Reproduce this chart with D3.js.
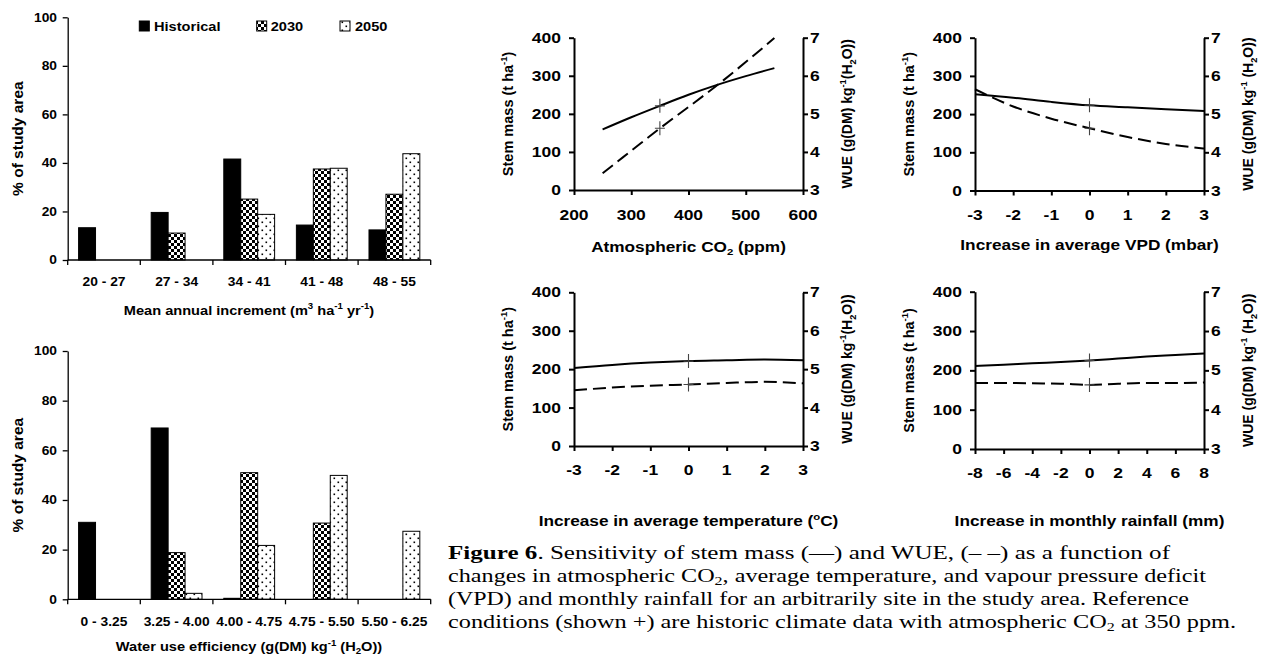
<!DOCTYPE html>
<html><head><meta charset="utf-8">
<script src="https://cdn.jsdelivr.net/npm/d3@7"></script>
<style>body{margin:0;background:#fff} svg{display:block}</style>
</head><body>
<svg id="c" width="1267" height="656"></svg>
<script>
// ---------- DATA ----------
const seriesNames = ["Historical", "2030", "2050"];
const barTicks = [0, 20, 40, 60, 80, 100];

const miCategories = ["20 - 27", "27 - 34", "34 - 41", "41 - 48", "48 - 55"];
const miHistorical = [13.3, 19.6, 41.6, 14.4, 12.4];
const mi2030 = [0, 11.1, 25.1, 37.5, 27.1];
const mi2050 = [0, 0, 18.8, 37.8, 43.8];

const wueCategories = ["0 - 3.25", "3.25 - 4.00", "4.00 - 4.75", "4.75 - 5.50", "5.50 - 6.25"];
const wueHistorical = [31, 69, 0.4, 0, 0];
const wue2030 = [0, 18.8, 51, 30.7, 0];
const wue2050 = [0, 2.4, 21.7, 49.9, 27.4];

const stemTicks = [0, 100, 200, 300, 400];
const wueTicks = [3, 4, 5, 6, 7];

const co2X = [250, 300, 350, 400, 450, 500, 550];
const co2Stem = [159, 191, 221, 250, 276, 299, 320];
const co2WUE = [3.44, 4.03, 4.62, 5.18, 5.75, 6.36, 6.99];
const co2Ticks = [200, 300, 400, 500, 600];
const co2Ref = 350;

const vpdX = [-3, -2, -1, 0, 1, 2, 3];
const vpdStem = [252, 243, 232, 223, 218, 213, 208];
const vpdWUE = [5.65, 5.2, 4.88, 4.63, 4.4, 4.22, 4.1];
const vpdTicks = [-3, -2, -1, 0, 1, 2, 3];

const tempX = [-3, -2, -1, 0, 1, 2, 3];
const tempStem = [203, 211, 217, 221, 223, 225, 223];
const tempWUE = [4.45, 4.52, 4.57, 4.6, 4.64, 4.67, 4.63];
const tempTicks = [-3, -2, -1, 0, 1, 2, 3];

const rainX = [-8, -6, -4, -2, 0, 2, 4, 6, 8];
const rainStem = [211, 214, 218, 221, 225, 230, 235, 239, 243];
const rainWUE = [4.68, 4.68, 4.67, 4.66, 4.63, 4.66, 4.68, 4.68, 4.69];
const rainTicks = [-8, -6, -4, -2, 0, 2, 4, 6, 8];

// ---------- HELPERS ----------
const svg = d3.select("#c");
const SANS = "'Liberation Sans', Arial, Helvetica, sans-serif";
const SERIF = "'Liberation Serif', 'Times New Roman', Times, serif";

function rich(parent, x, y, segs, o) {
  const size = o.size, sx = o.sx || 1, rot = o.rotate || 0;
  const g = parent.append("g").attr("transform", `translate(${x},${y}) rotate(${rot}) scale(${sx},1)`);
  const t = g.append("text")
    .attr("text-anchor", o.anchor || "middle")
    .style("font-family", o.family || SANS)
    .attr("font-weight", o.weight || "bold")
    .attr("font-size", size)
    .attr("fill", "#000");
  if (o.textLength) t.attr("textLength", o.textLength).attr("lengthAdjust", "spacingAndGlyphs");
  const subShift = o.subShift !== undefined ? o.subShift : 0.25;
  let shift = 0;
  segs.forEach(s => {
    const txt = typeof s === "string" ? s : s.t;
    const kind = typeof s === "string" ? null : s.k;
    const target = kind === "sup" ? -size * 0.4 : kind === "sub" ? size * subShift : 0;
    const ts = t.append("tspan").text(txt);
    if (target - shift !== 0) ts.attr("dy", target - shift);
    if (kind === "sup" || kind === "sub") ts.attr("font-size", size * 0.66);
    if (s.w) ts.attr("font-weight", s.w);
    shift = target;
  });
  return t;
}

// patterns
const defs = svg.append("defs");
const chk = defs.append("pattern").attr("id", "chk").attr("width", 6).attr("height", 6).attr("patternUnits", "userSpaceOnUse");
chk.append("rect").attr("width", 6).attr("height", 6).attr("fill", "#fff");
chk.append("rect").attr("width", 3).attr("height", 3).attr("fill", "#000");
chk.append("rect").attr("x", 3).attr("y", 3).attr("width", 3).attr("height", 3).attr("fill", "#000");
const dots = defs.append("pattern").attr("id", "dots").attr("width", 8).attr("height", 8).attr("patternUnits", "userSpaceOnUse");
dots.append("rect").attr("width", 8).attr("height", 8).attr("fill", "#fff");
dots.append("rect").attr("x", 1.5).attr("y", 1.5).attr("width", 1.6).attr("height", 1.6).attr("fill", "#000");
dots.append("rect").attr("x", 5.5).attr("y", 5.5).attr("width", 1.6).attr("height", 1.6).attr("fill", "#000");
const fills = ["#000", "url(#chk)", "url(#dots)"];

// ---------- BAR CHARTS ----------
function barChart(cfg) {
  const g = svg.append("g");
  const x0 = d3.scaleBand().domain(cfg.categories).range([67.7, 430.7]).paddingInner(0.3).paddingOuter(0.15);
  const x1 = d3.scaleBand().domain(seriesNames).range([0, x0.bandwidth()]);
  const y = d3.scaleLinear().domain([0, 100]).range([cfg.yBot, cfg.yTop]);
  const series = [cfg.hist, cfg.s2030, cfg.s2050];

  cfg.categories.forEach((c, i) => {
    series.forEach((vals, j) => {
      const v = vals[i];
      if (v <= 0) return;
      g.append("rect")
        .attr("x", x0(c) + x1(seriesNames[j]))
        .attr("y", y(v))
        .attr("width", x1.bandwidth())
        .attr("height", y(0) - y(v))
        .attr("fill", fills[j])
        .attr("stroke", "#000").attr("stroke-width", 1);
    });
  });

  const ya = g.append("g").attr("transform", "translate(67.7,0)")
    .call(d3.axisLeft(y).tickValues(barTicks).tickSize(5).tickSizeOuter(0).tickFormat(""));
  ya.selectAll("path,line").attr("stroke", "#000").attr("stroke-width", 1.3);
  barTicks.forEach(t => rich(g, 57, y(t) + 4.3, [String(t)], { size: 12, sx: 1.15, anchor: "end" }));

  const xa = g.append("g").attr("transform", `translate(0,${cfg.yBot})`);
  xa.append("line").attr("x1", 67.7).attr("x2", 430.7).attr("stroke", "#000").attr("stroke-width", 1.3);
  const step = x0.step();
  cfg.categories.concat([null]).forEach((c, i) => {
    const xx = 67.7 + i * step;
    xa.append("line").attr("x1", xx).attr("x2", xx).attr("y1", 0).attr("y2", 5).attr("stroke", "#000").attr("stroke-width", 1.3);
  });
  cfg.categories.forEach(c => rich(g, x0(c) + x0.bandwidth() / 2, cfg.labelY, [c], { size: 12, sx: 1.15 }));

  rich(g, 22.5, (cfg.yTop + cfg.yBot) / 2, ["% of study area"], { size: 15.5, rotate: -90 });
  rich(g, 249, cfg.titleY, cfg.title, { size: 12.7, sx: 1.15 });
  return g;
}

barChart({ categories: miCategories, hist: miHistorical, s2030: mi2030, s2050: mi2050,
  yTop: 17.3, yBot: 260, labelY: 285.5, titleY: 314.5,
  title: ["Mean annual increment (m", { t: "3", k: "sup" }, " ha", { t: "-1", k: "sup" }, " yr", { t: "-1", k: "sup" }, ")"] });

barChart({ categories: wueCategories, hist: wueHistorical, s2030: wue2030, s2050: wue2050,
  yTop: 351, yBot: 599.3, labelY: 625.5, titleY: 651,
  title: ["Water use efficiency (g(DM) kg", { t: "-1", k: "sup" }, " (H", { t: "2", k: "sub" }, "O))"] });

// legend
[[139.3, 154, "Historical"], [256.7, 270.7, "2030"], [340, 355, "2050"]].forEach((d, j) => {
  svg.append("rect").attr("x", d[0]).attr("y", 21).attr("width", 10).attr("height", 10)
    .attr("fill", fills[j]).attr("stroke", "#000").attr("stroke-width", 1);
  rich(svg, d[1], 30.5, [seriesNames[j]], { size: 12.7, sx: 1.15, anchor: "start" });
});

// ---------- LINE PANELS ----------
function panel(c) {
  const g = svg.append("g");
  const x = d3.scaleLinear().domain([c.ticks[0], c.ticks[c.ticks.length - 1]]).range([c.x0, c.x1]);
  const yL = d3.scaleLinear().domain([0, 400]).range([c.yBot, c.yTop]);
  const yR = d3.scaleLinear().domain([3, 7]).range([c.yBot, c.yTop]);

  const style = sel => sel.selectAll("path,line").attr("stroke", "#000").attr("stroke-width", 2);
  style(g.append("g").attr("transform", `translate(${c.x0},0)`)
    .call(d3.axisLeft(yL).tickValues(stemTicks).tickSize(5).tickSizeOuter(0).tickFormat("")));
  style(g.append("g").attr("transform", `translate(${c.x1},0)`)
    .call(d3.axisRight(yR).tickValues(wueTicks).tickSize(5).tickSizeOuter(0).tickFormat("")));
  style(g.append("g").attr("transform", `translate(0,${c.yBot})`)
    .call(d3.axisBottom(x).tickValues(c.ticks).tickSize(5).tickSizeOuter(0).tickFormat("")));

  stemTicks.forEach(t => rich(g, c.x0 - 13, yL(t) + 5, [String(t)], { size: 14, sx: 1.25, anchor: "end" }));
  wueTicks.forEach(t => rich(g, c.x1 + 7, yR(t) + 5, [String(t)], { size: 14, sx: 1.25, anchor: "start" }));
  c.ticks.forEach(t => rich(g, x(t), c.labelY + 5, [String(t)], { size: 14, sx: 1.25 }));

  const line = (ys, sc) => d3.line().x((d, i) => x(c.xs[i])).y(d => sc(d)).curve(d3.curveMonotoneX)(ys);
  g.append("path").attr("d", line(c.stem, yL)).attr("fill", "none").attr("stroke", "#000").attr("stroke-width", 2);
  g.append("path").attr("d", line(c.wue, yR)).attr("fill", "none").attr("stroke", "#000").attr("stroke-width", 2)
    .attr("stroke-dasharray", "13,6");

  const iRef = c.xs.indexOf(c.ref);
  [[x(c.ref), yL(c.stem[iRef])], [x(c.ref), yR(c.wue[iRef])]].forEach(p => {
    g.append("path").attr("d", `M${p[0] - 5},${p[1]}H${p[0] + 5}M${p[0]},${p[1] - 7}V${p[1] + 7}`)
      .attr("stroke", "#444").attr("stroke-width", 1.1).attr("fill", "none");
  });

  const midY = (c.yTop + c.yBot) / 2;
  rich(g, c.x0 - 66 + 5, midY, ["Stem mass (t ha", { t: "-1", k: "sup" }, ")"], { size: 14.5, rotate: -90 });
  rich(g, c.x1 + 44 + 5, midY, ["WUE (g(DM) kg", { t: "-1", k: "sup" }, c.wueSpace ? " (H" : "(H", { t: "2", k: "sub" }, "O))"], { size: 14, rotate: -90 });
  rich(g, (c.x0 + c.x1) / 2, c.titleY + 5, c.title, { size: 14, sx: 1.23 });
}

panel({ x0: 574, x1: 803, yTop: 37.7, yBot: 190, ticks: co2Ticks, xs: co2X, stem: co2Stem, wue: co2WUE, ref: co2Ref,
  labelY: 215, titleY: 246.7, wueSpace: false,
  title: ["Atmospheric CO", { t: "2", k: "sub" }, " (ppm)"] });
panel({ x0: 975, x1: 1204, yTop: 37.7, yBot: 190.5, ticks: vpdTicks, xs: vpdX, stem: vpdStem, wue: vpdWUE, ref: 0,
  labelY: 215, titleY: 245, wueSpace: true,
  title: ["Increase in average VPD (mbar)"] });
panel({ x0: 574, x1: 803, yTop: 292.3, yBot: 446, ticks: tempTicks, xs: tempX, stem: tempStem, wue: tempWUE, ref: 0,
  labelY: 470, titleY: 521, wueSpace: false,
  title: ["Increase in average temperature (", { t: "o", k: "sup" }, "C)"] });
panel({ x0: 975, x1: 1204, yTop: 291.7, yBot: 449, ticks: rainTicks, xs: rainX, stem: rainStem, wue: rainWUE, ref: 0,
  labelY: 473, titleY: 521, wueSpace: true,
  title: ["Increase in monthly rainfall (mm)"] });

// ---------- CAPTION ----------
const capLines = [
  { segs: [{ t: "Figure 6", w: "bold" }, ". Sensitivity of stem mass (\u2014) and WUE, (\u2013 \u2013) as a function of"], len: 722 },
  { segs: ["changes in atmospheric CO", { t: "2", k: "sub" }, ", average temperature, and vapour pressure deficit"], len: 758 },
  { segs: ["(VPD) and monthly rainfall for an arbitrarily site in the study area. Reference"], len: 741 },
  { segs: ["conditions (shown +) are historic climate data with atmospheric CO", { t: "2", k: "sub" }, " at 350 ppm."], len: 788 }
];
capLines.forEach((l, i) => {
  rich(svg, 448, 559 + i * 23, l.segs, { size: 19, family: SERIF, weight: "normal", anchor: "start", textLength: l.len, subShift: 0.18 });
});
</script>
</body></html>
